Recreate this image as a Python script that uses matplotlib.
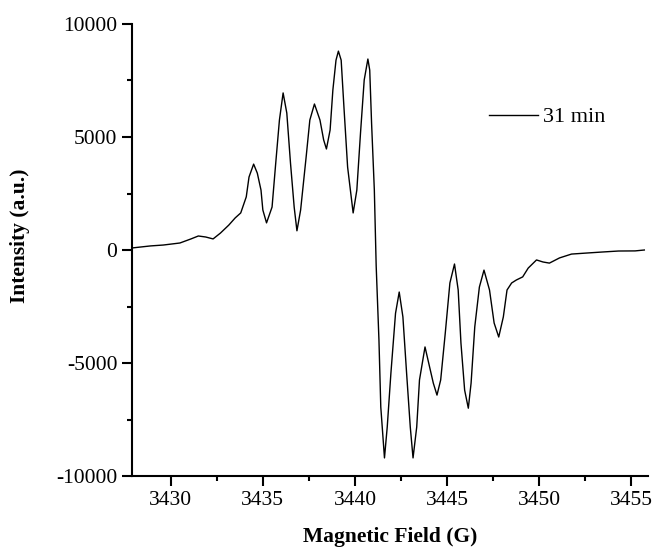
import matplotlib
matplotlib.use("Agg")
import matplotlib.pyplot as plt
from matplotlib.ticker import MultipleLocator

# EPR spectrum: magnetic field (G) and intensity (a.u.)
field = [
    3427.9, 3428.9, 3429.6, 3430.5, 3431.1, 3431.5, 3431.9, 3432.3, 3432.7,
    3433.15, 3433.5, 3433.8, 3434.1, 3434.25, 3434.5, 3434.7, 3434.9, 3435.0,
    3435.2, 3435.5, 3435.7, 3435.9, 3436.1, 3436.3, 3436.5, 3436.7, 3436.85,
    3437.05, 3437.35, 3437.55, 3437.8, 3438.1, 3438.3, 3438.45, 3438.65,
    3438.8, 3438.97, 3439.1, 3439.25, 3439.4, 3439.6, 3439.9, 3440.1, 3440.3,
    3440.5, 3440.7, 3440.8, 3440.9, 3441.05, 3441.15, 3441.3, 3441.4, 3441.6,
    3441.75, 3441.95, 3442.2, 3442.4, 3442.6, 3442.8, 3443.0, 3443.15,
    3443.35, 3443.5, 3443.8, 3444.05, 3444.25, 3444.45, 3444.65, 3444.9,
    3445.15, 3445.4, 3445.6, 3445.75, 3445.95, 3446.15, 3446.3, 3446.5,
    3446.75, 3447.0, 3447.3, 3447.55, 3447.8, 3448.05, 3448.25, 3448.5,
    3448.75, 3449.1, 3449.4, 3449.85, 3450.2, 3450.55, 3451.1, 3451.75,
    3452.65, 3453.4, 3454.3, 3455.2, 3455.7,
]
intensity = [
    90, 180, 220, 310, 490, 620, 575, 490, 750,
    1100, 1420, 1640, 2350, 3230, 3800, 3400, 2650, 1770,
    1200, 1900, 3850, 5750, 6950, 6060, 3850, 1900, 850,
    1770, 4120, 5750, 6460, 5750, 4870, 4470, 5310,
    7080, 8400, 8800, 8400, 6330, 3670, 1640, 2650, 5180,
    7520, 8450, 7960, 5620, 2650, -700, -3980, -6950, -9200,
    -7830, -5440, -2800, -1860, -2960, -5440, -7830, -9200,
    -7830, -5750, -4290, -5180, -5890, -6420, -5750, -3670,
    -1460, -620, -1770, -4120, -6200, -7000, -5890, -3400,
    -1640, -890, -1770, -3230, -3850, -2960, -1770, -1460,
    -1330, -1190, -800, -440, -530, -580, -350, -180,
    -130, -90, -45, -40, 0,
]
label = "31 min"

plt.rcParams["font.family"] = ["Liberation Serif", "DejaVu Serif"]
plt.rcParams["axes.unicode_minus"] = False

fig = plt.figure(figsize=(6.54, 5.48), dpi=100)
ax = fig.add_axes([132 / 654, 1 - 476 / 548, (648 - 132) / 654, (476 - 24) / 548])

ax.plot(field, intensity, color="black", linewidth=1.0, label=label)

ax.set_xlim(3427.9, 3455.9)
ax.set_ylim(-10000, 10000)
ax.xaxis.set_major_locator(MultipleLocator(5))
ax.xaxis.set_minor_locator(MultipleLocator(2.5))
ax.yaxis.set_major_locator(MultipleLocator(5000))
ax.yaxis.set_minor_locator(MultipleLocator(2500))

for side in ["top", "right"]:
    ax.spines[side].set_visible(False)
for side in ["left", "bottom"]:
    ax.spines[side].set_linewidth(1.5)

ax.tick_params(which="major", direction="out", length=7.5, width=1.5, labelsize=15.5, pad=3)
ax.tick_params(which="minor", direction="out", length=3.8, width=1.5)

ax.set_xlabel("Magnetic Field (G)", fontsize=15.5, fontweight="bold", va="top")
ax.xaxis.set_label_coords(0.5, -0.112)
ax.set_ylabel("Intensity (a.u.)", fontsize=15.5, fontweight="bold")
ax.yaxis.set_label_coords(-0.1977, 0.531)

ax.legend(loc="center left", bbox_to_anchor=(0.692, 0.794), frameon=False,
          handlelength=2.2, handletextpad=0.23, borderpad=0, borderaxespad=0,
          fontsize=16)

fig.savefig("out.png", dpi=100)
